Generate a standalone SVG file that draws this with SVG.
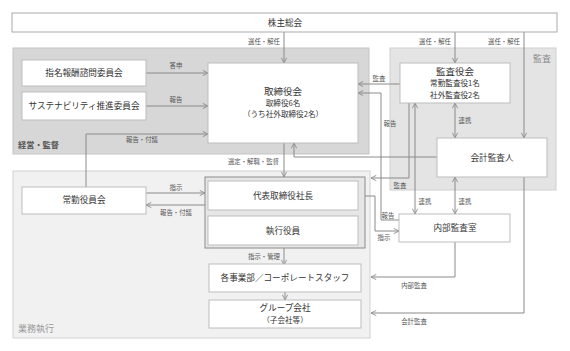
<svg xmlns="http://www.w3.org/2000/svg" width="570" height="351" viewBox="0 0 570 351">
<defs>
<marker id="ah" viewBox="0 0 8 8" refX="7" refY="4" markerWidth="7" markerHeight="7" markerUnits="userSpaceOnUse" orient="auto-start-reverse">
<path d="M1,1 L7,4 L1,7" fill="none" stroke="#8a8a8a" stroke-width="1"/>
</marker>
</defs>
<style>
text{font-family:"Noto Sans CJK JP","Noto Sans",sans-serif;text-anchor:middle;fill:#333}
.b{fill:#fff;stroke:#bdbdbd;stroke-width:1}
.t{font-size:8.6px}
.s{font-size:7.6px}
.l{font-size:6.4px;fill:#555}
.c{fill:none;stroke:#8a8a8a;stroke-width:1}
.a{marker-end:url(#ah)}
.d{marker-start:url(#ah);marker-end:url(#ah)}
</style>
<rect width="570" height="351" fill="#fff"/>
<g id="regions">
<rect x="13" y="48" width="356" height="106" fill="#d7d7d7" stroke="#c4c4c4"/>
<rect x="390" y="48" width="166" height="142" fill="#e4e4e4" stroke="#d0d0d0"/>
<rect x="13" y="171" width="357" height="167" fill="#f1f1f1" stroke="#d2d2d2"/>
<text x="18" y="148" style="font-size:8.2px;font-weight:bold;text-anchor:start;fill:#555">経営・監督</text>
<text x="551" y="62" style="font-size:9px;text-anchor:end;fill:#888">監査</text>
<text x="18" y="332" style="font-size:9px;text-anchor:start;fill:#999">業務執行</text>
</g>
<g id="connectors">
<path class="c a" d="M284,32 V63"/>
<path class="c a" d="M455,32 V63"/>
<path class="c a" d="M524,32 V138"/>
<path class="c a" d="M146,73 H208"/>
<path class="c a" d="M146,106 H208"/>
<path class="c a" d="M86,187 V134 H208"/>
<path class="c a" d="M400,84 H358"/>
<path class="c a" d="M437,157 H294 V143"/>
<path class="c a" d="M381,157 V93 H358"/>
<path class="c" d="M399,220 H381 V157"/>
<path class="c a" d="M284,143 V177"/>
<path class="c a" d="M409,103 V178 H371"/>
<path class="c d" d="M415,103 V214"/>
<path class="c d" d="M455,103 V138"/>
<path class="c d" d="M455,177 V214"/>
<path class="c a" d="M524,177 V313 H371"/>
<path class="c a" d="M455,242 V277 H371"/>
<path class="c a" d="M358,196 H375 V231 H399"/>
<path class="c a" d="M146,193 H205"/>
<path class="c a" d="M205,205 H146"/>
<path class="c" d="M284,210 V216"/>
<path class="c a" d="M284,248 V265"/>
<path class="c a" d="M285,292 V300"/>
<text class="l" x="280" y="44" style="text-anchor:end">選任・解任</text>
<text class="l" x="451" y="44" style="text-anchor:end">選任・解任</text>
<text class="l" x="520" y="44" style="text-anchor:end">選任・解任</text>
<text class="l" x="176" y="68">答申</text>
<text class="l" x="176" y="102">報告</text>
<text class="l" x="142" y="142">報告・付議</text>
<text class="l" x="379" y="81">監査</text>
<text class="l" x="390" y="126">報告</text>
<text class="l" x="388" y="218">報告</text>
<text class="l" x="279" y="164" style="text-anchor:end">選定・解職・監督</text>
<text class="l" x="400" y="188">監査</text>
<text class="l" x="425" y="204">連携</text>
<text class="l" x="465" y="123">連携</text>
<text class="l" x="465" y="204">連携</text>
<text class="l" x="414" y="324">会計監査</text>
<text class="l" x="414" y="288">内部監査</text>
<text class="l" x="384" y="240">指示</text>
<text class="l" x="176" y="190">指示</text>
<text class="l" x="176" y="215">報告・付議</text>
<text class="l" x="280" y="259" style="text-anchor:end">指示・管理</text>
</g>
<g id="shareholders">
<rect class="b" x="12" y="13" width="545" height="19" style="stroke:#aaa"/>
<text class="t" x="285" y="25.5">株主総会</text>
</g>
<g id="nomination">
<rect class="b" x="22" y="60" width="124" height="26"/>
<text class="t" x="84" y="76">指名報酬諮問委員会</text>
</g>
<g id="sustainability">
<rect class="b" x="22" y="92" width="124" height="28"/>
<text class="t" x="84" y="109">サステナビリティ推進委員会</text>
</g>
<g id="board">
<rect class="b" x="208" y="63" width="150" height="80"/>
<text x="283" y="95" style="font-size:9.5px">取締役会</text>
<text class="s" x="283" y="106">取締役6名</text>
<text class="s" x="283" y="117">（うち社外取締役2名）</text>
</g>
<g id="auditboard">
<rect class="b" x="400" y="63" width="110" height="40"/>
<text x="455" y="74.5" style="font-size:9.5px">監査役会</text>
<text class="s" x="455" y="86">常勤監査役1名</text>
<text class="s" x="455" y="97.5">社外監査役2名</text>
</g>
<g id="accountant">
<rect class="b" x="437" y="138" width="110" height="39"/>
<text class="t" x="492" y="161">会計監査人</text>
</g>
<g id="internalaudit">
<rect class="b" x="399" y="214" width="111" height="28"/>
<text class="t" x="455" y="231">内部監査室</text>
</g>
<g id="executive">
<rect x="205" y="177" width="160" height="71" fill="#e6e6e6" stroke="#8c8c8c"/>
<rect class="b" x="208" y="181" width="150" height="29"/>
<text class="t" x="283" y="199">代表取締役社長</text>
<rect class="b" x="208" y="216" width="150" height="29"/>
<text class="t" x="283" y="234">執行役員</text>
</g>
<g id="standing">
<rect class="b" x="22" y="187" width="124" height="27"/>
<text class="t" x="84" y="203">常勤役員会</text>
</g>
<g id="divisions">
<rect class="b" x="209" y="264" width="152" height="28"/>
<text class="t" x="285" y="281">各事業部／コーポレートスタッフ</text>
</g>
<g id="group">
<rect class="b" x="209" y="300" width="152" height="28"/>
<text class="t" x="285" y="310.5">グループ会社</text>
<text class="s" x="285" y="322.5">（子会社等）</text>
</g>
</svg>
